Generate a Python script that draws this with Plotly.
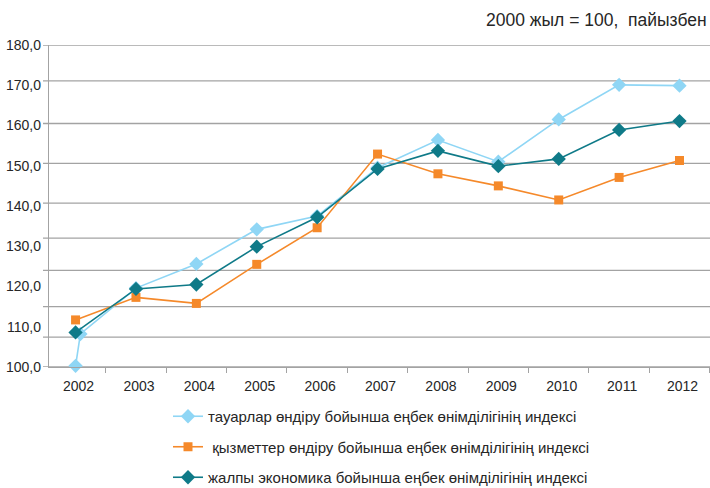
import plotly.graph_objects as go

years = [2002, 2003, 2004, 2005, 2006, 2007, 2008, 2009, 2010, 2011, 2012]

# light-blue series has an extra near-2002 point in the picture
goods_x = [2002, 2002.08, 2003, 2004, 2005, 2006, 2007, 2008, 2009, 2010, 2011, 2012]
goods = [100.3, 108.2, 119.6, 125.6, 134.2, 137.5, 149.5, 156.4, 151.0, 161.5, 170.1, 169.9]
services = [111.7, 117.3, 115.8, 125.5, 134.6, 152.9, 148.0, 145.0, 141.5, 147.1, 151.3]
economy = [108.6, 119.4, 120.5, 129.9, 137.2, 149.2, 153.7, 149.9, 151.7, 158.9, 161.1]

y_ticks = [100, 110, 120, 130, 140, 150, 160, 170, 180]
grid_levels = [180, 171.1, 160.5, 150.6, 140.7, 132.0, 124.0, 115.0, 107.4, 100]

names = [
    "тауарлар өндіру бойынша еңбек өнімділігінің индексі",
    "\u00a0қызметтер өндіру бойынша еңбек өнімділігінің индексі",
    "жалпы экономика бойынша еңбек өнімділігінің индексі",
]
title_text = "2000 жыл = 100,\u00a0 пайызбен"

c_goods = "#8fd6f5"
c_serv = "#f5892a"
c_econ = "#0f7a88"
grid_c = "#a3a3a3"

fig = go.Figure()
fig.add_trace(go.Scatter(x=goods_x, y=goods, mode="lines+markers", name=names[0],
                         legendgroup="a", cliponaxis=False,
                         line=dict(color=c_goods, width=1.6),
                         marker=dict(symbol="diamond", size=11, color=c_goods)))
fig.add_trace(go.Scatter(x=years, y=services, mode="lines+markers", name=names[1],
                         legendgroup="b", cliponaxis=False,
                         line=dict(color=c_serv, width=1.6),
                         marker=dict(symbol="square", size=9, color=c_serv)))
fig.add_trace(go.Scatter(x=years, y=economy, mode="lines+markers", name=names[2],
                         legendgroup="c", cliponaxis=False,
                         line=dict(color=c_econ, width=1.6),
                         marker=dict(symbol="diamond", size=11, color=c_econ)))

left = 49
plot_w = 710 - left
plot_h = 322
shapes = [dict(type="line", xref="paper", x0=-6 / plot_w, x1=1, yref="y", y0=g, y1=g,
               line=dict(color=grid_c, width=1.3), layer="below")
          for g in grid_levels]

fig.update_layout(
    width=710, height=488,
    margin=dict(l=left, r=0, t=45, b=121, autoexpand=False),
    paper_bgcolor="white", plot_bgcolor="white",
    separators=", ",
    font=dict(family="Liberation Sans, Arial, sans-serif", size=14, color="#262626"),
    shapes=shapes,
    showlegend=True,
    legend=dict(x=(168 - left) / plot_w, xanchor="left", y=-(400 - 367) / plot_h,
                yanchor="top", orientation="v", tracegroupgap=8,
                font=dict(size=15, color="#262626"), bgcolor="rgba(0,0,0,0)"),
    annotations=[dict(text=title_text, xref="paper", yref="paper", x=1, y=1 + 25 / plot_h,
                      xanchor="right", yanchor="middle", xshift=-1, showarrow=False,
                      font=dict(size=17.5, color="#262626"))],
)
fig.update_xaxes(range=[2001.56, 2012.505], tickmode="array", tickvals=years,
                 ticktext=[str(y) for y in years], ticks="", showgrid=False,
                 showline=True, linecolor=grid_c, linewidth=1.3, zeroline=False,
                 tickfont=dict(size=14), ticklabelstandoff=6, ticklabelshift=3,
                 minor=dict(tick0=2001.5, dtick=1, ticks="outside", ticklen=5,
                            tickcolor=grid_c, tickwidth=1.2, showgrid=False))
fig.update_yaxes(range=[100, 180], tickmode="array", tickvals=y_ticks, tickformat=".1f",
                 showgrid=False, showline=True, linecolor=grid_c, linewidth=1.3,
                 zeroline=False, ticks="", tickfont=dict(size=14), ticklabelstandoff=4)

fig.write_html("out.html", config={"displayModeBar": False},
               post_script="document.body.style.margin='0px';")
